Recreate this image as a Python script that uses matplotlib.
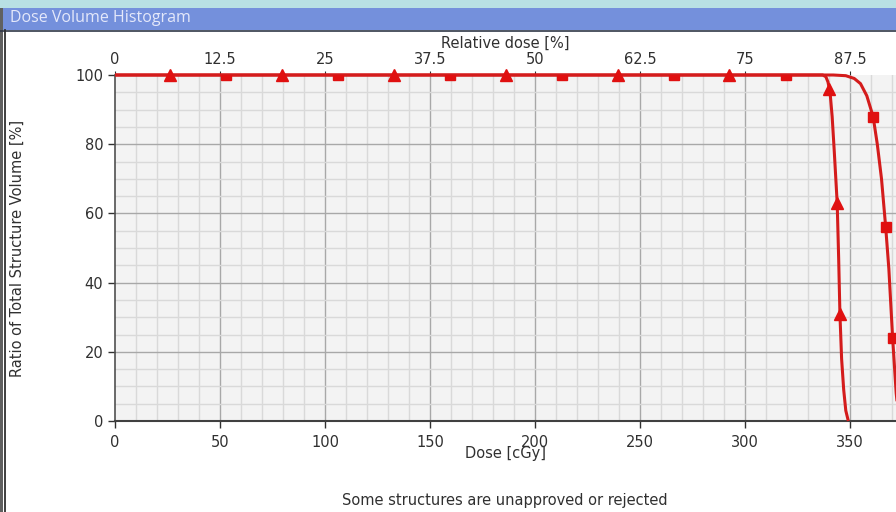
import matplotlib
matplotlib.use("Agg")
import matplotlib.pyplot as plt
import numpy as np
from matplotlib.patches import Rectangle
from matplotlib.lines import Line2D

# Cumulative DVH curves (dose in cGy, volume in %)
tri_dose = [0, 337, 338.5, 339.5, 340.5, 341.5, 342.5, 343.9, 344.6, 345.2, 346, 347, 348, 349.2]
tri_vol = [100, 100, 99.5, 98, 95, 88, 78, 63, 47, 31, 18, 9, 3, 0]
sq_dose = [0, 342, 348, 352, 355, 358, 361, 363, 365, 367, 368.5, 370.3, 372, 373, 374]
sq_vol = [100, 100, 99.8, 99, 97.5, 94, 88, 80, 70, 56, 44, 24, 8, 2, 0]

# Marker positions along each curve
tri_mark_dose = [26.2, 79.5, 132.8, 186, 239.3, 292.6, 340.2, 343.8, 345.1]
tri_mark_vol = [100, 100, 100, 100, 100, 100, 96, 63, 31]
sq_mark_dose = [52.9, 106.2, 159.5, 212.8, 266, 319.3, 361, 367, 370.3]
sq_mark_vol = [100, 100, 100, 100, 100, 100, 88, 56, 24]

x_ticks = [0, 50, 100, 150, 200, 250, 300, 350]
y_ticks = [0, 20, 40, 60, 80, 100]
rel_ticks = [0, 12.5, 25, 37.5, 50, 62.5, 75, 87.5]
rel_labels = ["0", "12.5", "25", "37.5", "50", "62.5", "75", "87.5"]
prescription = 400.0  # cGy for 100 % relative dose

W, H = 896, 512
fig = plt.figure(figsize=(W / 100, H / 100), dpi=100)
fig.patch.set_facecolor("white")

# Window chrome: cyan strip, blue title bar, left frame
fig.add_artist(Rectangle((0, 1 - 8 / H), 1, 8 / H, transform=fig.transFigure,
                         facecolor="#b8e0e4", edgecolor="none", zorder=0))
fig.add_artist(Rectangle((0, 1 - 30 / H), 1, 22 / H, transform=fig.transFigure,
                         facecolor="#7490dc", edgecolor="none", zorder=0))
fig.add_artist(Line2D([0, 1], [1 - 30.5 / H] * 2, transform=fig.transFigure,
                      color="#303848", lw=1.2))
fig.add_artist(Rectangle((0, 0), 2.5 / W, 1 - 8 / H, transform=fig.transFigure,
                         facecolor="#606060", edgecolor="none"))
fig.add_artist(Line2D([5 / W] * 2, [0, 1 - 30 / H], transform=fig.transFigure,
                      color="#303030", lw=1.3))
fig.text(10 / W, 1 - 18 / H, "Dose Volume Histogram", color="#e4e8fa",
         fontsize=11.5, va="center", ha="left", family="Open Sans")

ax = fig.add_axes([115 / W, 1 - 421 / H, (W - 115) / W, (421 - 75) / H])
ax.set_facecolor("#f3f3f3")
ax.set_xlim(0, (W - 115) / 2.1)
ax.set_ylim(0, 100)

# Grid: fine lines every 10 cGy / 5 %, stronger every 50 cGy / 20 %
for d in np.arange(10, 380, 10):
    major = d % 50 == 0
    ax.axvline(d, color="#a8a8a8" if major else "#d9d9d9", lw=1.0, zorder=1)
for v in np.arange(5, 100, 5):
    major = v % 20 == 0
    ax.axhline(v, color="#a8a8a8" if major else "#d9d9d9", lw=1.0, zorder=1)

red = "#d41c1c"
ax.plot(tri_dose, tri_vol, color=red, lw=2.2, zorder=3, clip_on=False,
        solid_capstyle="butt")
ax.plot(sq_dose, sq_vol, color=red, lw=2.2, zorder=3, clip_on=False,
        solid_capstyle="butt")
ax.plot(tri_mark_dose, tri_mark_vol, ls="none", marker="^", ms=9,
        color="#e01010", mec="#e01010", zorder=4, clip_on=False)
ax.plot(sq_mark_dose, sq_mark_vol, ls="none", marker="s", ms=6.5,
        color="#e01010", mec="#e01010", zorder=4, clip_on=True)

for s in ["top", "right"]:
    ax.spines[s].set_visible(False)
ax.spines["left"].set_color("#505050")
ax.spines["bottom"].set_color("#404040")
ax.spines["left"].set_linewidth(1.2)
ax.spines["bottom"].set_linewidth(1.5)

ax.set_xticks(x_ticks)
ax.set_yticks(y_ticks)
ax.tick_params(axis="both", labelsize=10.5, colors="#303030", length=5, width=1,
               direction="out")
ax.tick_params(axis="x", pad=5)
ax.set_xlabel("Dose [cGy]", fontsize=10.5, color="#303030", labelpad=-3)
ax.set_ylabel("Ratio of Total Structure Volume [%]", fontsize=10.5,
              color="#303030", labelpad=36)

top = ax.secondary_xaxis("top", functions=(lambda d: d / prescription * 100,
                                           lambda r: r * prescription / 100))
top.set_xticks(rel_ticks)
top.set_xticklabels(rel_labels)
top.tick_params(labelsize=10.5, colors="#303030", length=3, pad=3)
top.spines["top"].set_visible(False)
top.set_xlabel("Relative dose [%]", fontsize=10.5, color="#303030", labelpad=2.5)

fig.text(505 / W, 1 - 501 / H, "Some structures are unapproved or rejected",
         fontsize=10.5, color="#303030", ha="center", va="center")

fig.savefig("out.png", dpi=100)
